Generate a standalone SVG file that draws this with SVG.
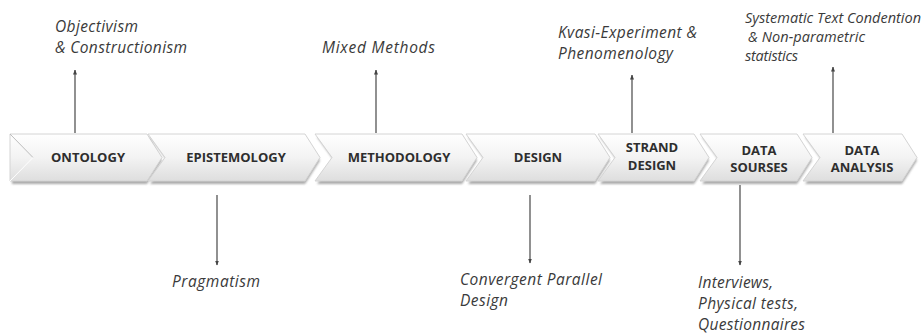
<svg xmlns="http://www.w3.org/2000/svg" width="924" height="334" viewBox="0 0 924 334">
  <defs>
    <linearGradient id="g" x1="0" y1="0" x2="0" y2="1">
      <stop offset="0" stop-color="#ffffff"/>
      <stop offset="0.5" stop-color="#f3f3f3"/>
      <stop offset="1" stop-color="#dedede"/>
    </linearGradient>
    <filter id="blur" x="-5%" y="-20%" width="110%" height="140%">
      <feGaussianBlur stdDeviation="1.2"/>
    </filter>
    <marker id="ah" viewBox="0 0 10 10" refX="9" refY="5" markerWidth="5" markerHeight="5" orient="auto" markerUnits="userSpaceOnUse">
      <path d="M0,1 L10,5 L0,9 z" fill="#444"/>
    </marker>
    <style>
      .chev { fill: url(#g); stroke: #d4d4d4; stroke-width: 1; }
      .shadow { fill: #8f8f8f; filter: url(#blur); opacity: 0.75; }
      .nt { font-family: "Open Sans", "Liberation Sans", sans-serif; font-weight: bold; font-size: 13px; fill: #2e2e2e; text-anchor: middle; }
      .lb { font-family: "Open Sans", "Liberation Sans", sans-serif; font-style: italic; font-size: 15.5px; fill: #3a3a3a; }
      .lbs { font-family: "Open Sans", "Liberation Sans", sans-serif; font-style: italic; font-size: 14.5px; fill: #3a3a3a; }
      .arr { stroke: #555555; stroke-width: 1.3; fill: none; marker-end: url(#ah); }
    </style>
  </defs>
  <rect width="924" height="334" fill="#ffffff"/>

  <g id="connectors">
    <line class="arr" x1="75" y1="133" x2="75" y2="70"/>
    <line class="arr" x1="376" y1="133" x2="376" y2="70"/>
    <line class="arr" x1="632" y1="133" x2="632" y2="75"/>
    <line class="arr" x1="833" y1="133" x2="833" y2="67"/>
    <line class="arr" x1="217" y1="195" x2="217" y2="265"/>
    <line class="arr" x1="530" y1="195" x2="530" y2="263"/>
    <line class="arr" x1="740" y1="185" x2="740" y2="265"/>
  </g>

  <g id="ontology">
    <polygon class="shadow" points="12,137 147,137 162,160.5 147,184 12,184"/>
    <polygon class="chev" points="10,134 147,134 162,157.5 147,181 10,181"/>
    <line x1="10" y1="134" x2="33" y2="157.5" stroke="#bdbdbd" stroke-width="1"/>
    <line x1="33" y1="157.5" x2="10" y2="181" stroke="#ffffff" stroke-width="1"/>
    <text class="nt" x="88" y="162">ONTOLOGY</text>
  </g>
  <g id="epistemology">
    <polygon class="shadow" points="150,137 305,137 320,160.5 305,184 150,184 167,160.5"/>
    <polygon class="chev" points="148,134 305,134 320,157.5 305,181 148,181 165,157.5"/>
    <text class="nt" x="236" y="162">EPISTEMOLOGY</text>
  </g>
  <g id="methodology">
    <polygon class="shadow" points="317,137 462,137 477,160.5 462,184 317,184 334,160.5"/>
    <polygon class="chev" points="315,134 462,134 477,157.5 462,181 315,181 332,157.5"/>
    <text class="nt" x="399" y="162">METHODOLOGY</text>
  </g>
  <g id="design">
    <polygon class="shadow" points="468,137 595,137 610,160.5 595,184 468,184 485,160.5"/>
    <polygon class="chev" points="466,134 595,134 610,157.5 595,181 466,181 483,157.5"/>
    <text class="nt" x="538" y="162">DESIGN</text>
  </g>
  <g id="strand-design">
    <polygon class="shadow" points="600,137 694,137 709,160.5 694,184 600,184 617,160.5"/>
    <polygon class="chev" points="598,134 694,134 709,157.5 694,181 598,181 615,157.5"/>
    <text class="nt" x="652" y="152">STRAND</text>
    <text class="nt" x="652" y="170">DESIGN</text>
  </g>
  <g id="data-sourses">
    <polygon class="shadow" points="702,137 797,137 812,160.5 797,184 702,184 719,160.5"/>
    <polygon class="chev" points="700,134 797,134 812,157.5 797,181 700,181 717,157.5"/>
    <text class="nt" x="759" y="155">DATA</text>
    <text class="nt" x="759" y="172">SOURSES</text>
  </g>
  <g id="data-analysis">
    <polygon class="shadow" points="805,137 902,137 917,160.5 902,184 805,184 822,160.5"/>
    <polygon class="chev" points="803,134 902,134 917,157.5 902,181 803,181 820,157.5"/>
    <text class="nt" x="862" y="155">DATA</text>
    <text class="nt" x="862" y="172">ANALYSIS</text>
  </g>

  <g id="label-ontology">
    <text class="lb" x="55" y="32" textLength="83">Objectivism</text>
    <text class="lb" x="55" y="53" textLength="132">&amp; Constructionism</text>
  </g>
  <g id="label-methodology">
    <text class="lb" x="322" y="53" textLength="113">Mixed Methods</text>
  </g>
  <g id="label-strand">
    <text class="lb" x="558" y="38" textLength="139">Kvasi-Experiment &amp;</text>
    <text class="lb" x="558" y="59" textLength="115">Phenomenology</text>
  </g>
  <g id="label-analysis">
    <text class="lbs" x="745" y="23" textLength="176">Systematic Text Condention</text>
    <text class="lbs" x="748" y="42" textLength="117">&amp; Non-parametric</text>
    <text class="lbs" x="745" y="61" textLength="53">statistics</text>
  </g>
  <g id="label-epistemology">
    <text class="lb" x="172" y="287" textLength="88">Pragmatism</text>
  </g>
  <g id="label-design">
    <text class="lb" x="460" y="285" textLength="142">Convergent Parallel</text>
    <text class="lb" x="460" y="306" textLength="48">Design</text>
  </g>
  <g id="label-sourses">
    <text class="lb" x="698" y="288" textLength="75">Interviews,</text>
    <text class="lb" x="698" y="309" textLength="100">Physical tests,</text>
    <text class="lb" x="698" y="330" textLength="107">Questionnaires</text>
  </g>
</svg>
